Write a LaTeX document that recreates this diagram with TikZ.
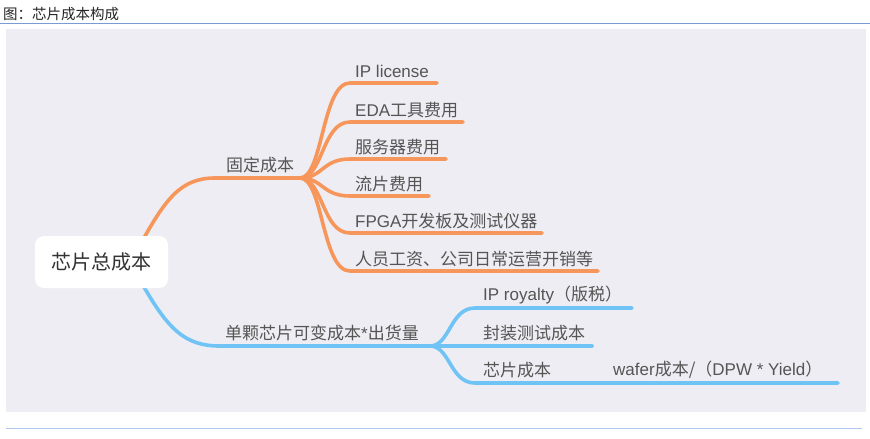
\documentclass[tikz,border=0pt]{standalone}
\usepackage{fontspec}
\setmainfont{Noto Sans CJK SC}
\newfontfamily\lat{Liberation Sans}
\definecolor{panel}{RGB}{237,237,243}
\definecolor{org}{RGB}{247,150,90}
\definecolor{blu}{RGB}{112,196,245}
\definecolor{txt}{RGB}{85,85,85}
\definecolor{rule1}{RGB}{120,155,210}
\definecolor{rule2}{RGB}{175,200,235}
\tikzset{
  obr/.style={draw=org,line width=3.6pt,line cap=round},
  bbr/.style={draw=blu,line width=3.6pt,line cap=round},
  lbl/.style={anchor=west,inner sep=0pt,text=txt,font=\fontsize{17}{18}\selectfont},
}
\begin{document}
\begin{tikzpicture}[x=1pt,y=-1pt]
\useasboundingbox (0,0) rectangle (870,439);
\node[anchor=west,inner sep=0pt,font=\fontsize{14.5}{15}\selectfont,text=black!85] (title) at (3,14) {图：芯片成本构成};
\draw[rule1,line width=1.2pt] (0,23.5) -- (870,23.5);
\fill[panel] (6,29) rectangle (866,412);
\draw[rule2,line width=1pt] (6,428) -- (862,428);
% coordinates
\coordinate (fo) at (300,178);
\coordinate (fb) at (430,346);
% root branches
\draw[obr] (140,245) .. controls (165,200) and (180,178) .. (215,178) -- (fo);
\draw[bbr] (140,280) .. controls (168,330) and (185,346) .. (220,346) -- (fb);
% orange fan
\foreach \y/\e in {83/437,122/463,159/446,196/429,233/542,271/598}{
  \draw[obr] (fo) .. controls (323,178) and (322,\y) .. (350,\y) -- (\e,\y);
}
% blue fan
\foreach \y/\e in {308/632,346/592,383/838}{
  \draw[bbr] (fb) .. controls (450,346) and (450,\y) .. (475,\y) -- (\e,\y);
}
% root
\node[fill=white,rounded corners=9pt,minimum width=133pt,minimum height=52pt,inner sep=0pt,text=black!80,font=\fontsize{20}{22}\selectfont] (root) at (101.5,262) {芯片总成本};
% labels
\node[lbl] (fixed) at (226,165) {固定成本};
\node[lbl] (var) at (225,333) {单颗芯片可变成本{\lat *}出货量};
\node[lbl] (c1) at (355,71) {\lat IP license};
\node[lbl] (c2) at (355,110) {{\lat EDA}工具费用};
\node[lbl] (c3) at (355,147) {服务器费用};
\node[lbl] (c4) at (355,184) {流片费用};
\node[lbl] (c5) at (355,221) {{\lat FPGA}开发板及测试仪器};
\node[lbl] (c6) at (355,259) {人员工资、公司日常运营开销等};
\node[lbl] (d1) at (483,295) {{\lat IP royalty}（版税）};
\node[lbl] (d2) at (483,333) {封装测试成本};
\node[lbl] (d3) at (483,370) {芯片成本};
\node[lbl] (d4) at (613,370) {{\lat wafer}成本/（{\lat DPW * Yield}）};
\end{tikzpicture}
\end{document}
